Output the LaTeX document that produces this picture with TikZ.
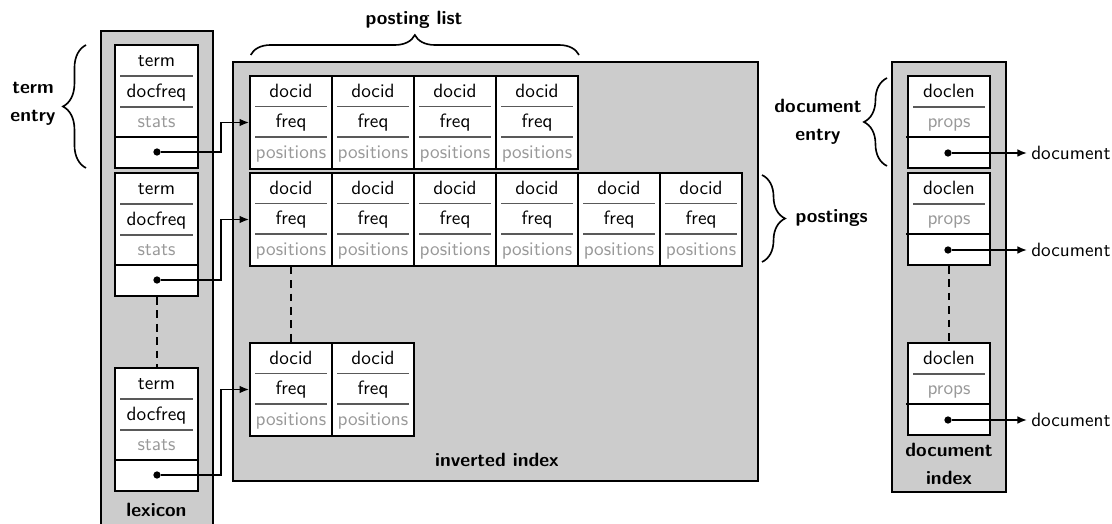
\documentclass[tikz,border=0pt]{standalone}
\usepackage{tikz}
\usetikzlibrary{arrows.meta, calc, decorations.pathreplacing}
\renewcommand{\familydefault}{\sfdefault}

\begin{document}
\begin{tikzpicture}[x=0.52pt, y=-0.52pt,
  frame/.style={draw, line width=1.1pt, fill=black!20},
  cell/.style={draw, line width=0.9pt, fill=white, inner sep=0},
  field/.style={inner sep=0, text height=1.5ex, text depth=.25ex},
  faint/.style={field, text=black!40},
  rule/.style={draw=black!65, line width=0.6pt},
  cut/.style={line width=0.9pt},
  dot/.style={circle, fill, inner sep=0, minimum size=3.8pt},
  ptr/.style={line width=0.85pt, -{Latex[length=5pt, width=4pt]}},
  gap/.style={line width=0.9pt, dash pattern=on 4pt off 3pt},
  heading/.style={font=\bfseries, align=center, inner sep=1pt},
  brace/.style={decorate, decoration={brace, amplitude=#1}, line width=0.85pt},
  brace/.default=12pt]

\useasboundingbox (0,0) rectangle (1112,524);

% lexicon
\fill[black!20] (100.7,31) rectangle (212.7,530);
\draw[line width=1.1pt] (100.7,530) |- (212.7,31) -- (212.7,530);

\foreach \t/\n in {45/1, 173/2, 368/3} {
  \node[cell, minimum width=43.2pt, minimum height=64pt] (l\n) at (156.5,\t+61.5) {};
  \node[field] (l\n-term) at (156.5,\t+16) {term};
  \node[field] (l\n-freq) at (156.5,\t+47) {docfreq};
  \node[faint] (l\n-stats) at (156.5,\t+77) {stats};
  \draw[rule] (120,\t+31) -- (193,\t+31);
  \draw[rule] (120,\t+62) -- (193,\t+62);
  \draw[cut] (115,\t+92) -- (198,\t+92);
  \node[dot] (lp\n) at (157,\t+107) {};
}
\draw[gap] (l2.south -| lp2) -- (l3.north -| lp3);
\node[heading] (lexlabel) at (156.5,510) {lexicon};

% inverted index
\filldraw[frame] (232.7,61.7) rectangle (758,480.7);

\foreach \r/\t/\k in {1/76/4, 2/173/6, 3/343/2} {
  \foreach \c in {1,...,\k} {
    \pgfmathsetmacro{\xl}{250+(\c-1)*82}
    \node[cell, minimum width=42.64pt, minimum height=48.1pt] (p\r-\c) at (\xl+41,\t+46.5) {};
    \node[field] (p\r-\c-id) at (\xl+41,\t+16) {docid};
    \node[field] (p\r-\c-freq) at (\xl+41,\t+46.5) {freq};
    \node[faint] (p\r-\c-pos) at (\xl+41,\t+77) {positions};
    \draw[rule] (\xl+5,\t+30.5) -- (\xl+77,\t+30.5);
    \draw[rule] (\xl+5,\t+61) -- (\xl+77,\t+61);
  }
}
\draw[gap] (p2-1.south) -- (p3-1.north);
\node[heading] (invlabel) at (497,460) {inverted index};

% lexicon -> postings
\foreach \n in {1,2,3}
  \draw[ptr] (lp\n) -| ([xshift=-14.6pt]p\n-1.west) -- (p\n-1.west);

% document index
\filldraw[frame] (891.7,61.7) rectangle (1006,491.7);

\foreach \t/\n in {76/1, 173/2, 343/3} {
  \node[cell, minimum width=42.6pt, minimum height=47.84pt] (d\n) at (949,\t+46) {};
  \node[field] (d\n-len) at (949,\t+16) {doclen};
  \node[faint] (d\n-props) at (949,\t+46) {props};
  \draw[rule] (913,\t+31) -- (985,\t+31);
  \draw[cut] (906,\t+61) -- (990,\t+61);
  \node[dot] (dd\n) at (948,\t+77) {};
  \node[anchor=west, inner sep=2pt] (doc\n) at (1027,\t+77) {document};
  \draw[ptr] (dd\n) -- (doc\n);
}
\draw[gap] (d2.south) -- (d3.north);
\node[heading] (dilabel) at (949,464) {document\\[2.5pt]index};

% braces
\draw[brace=10.4pt] (250.7,55) -- (579,55);
\node[heading] (pllabel) at (414,20) {posting list};

\draw[brace] (86,168) -- (86,45);
\node[heading] (telabel) at (33,104) {term\\[2.5pt]entry};

\draw[brace] (762,175) -- (762,262);
\node[heading] (pslabel) at (831.7,218) {postings};

\draw[brace] (887,166) -- (887,78);
\node[heading] (delabel) at (818,121.7) {document\\[2.5pt]entry};

\end{tikzpicture}
\end{document}
